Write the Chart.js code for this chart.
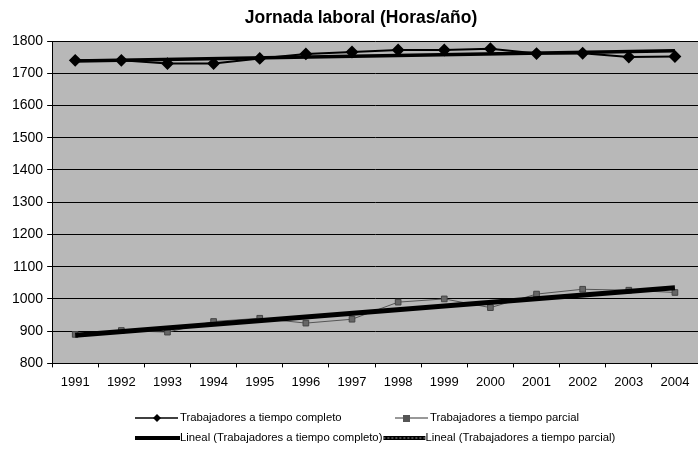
<!DOCTYPE html>
<html>
<head>
<meta charset="utf-8">
<script src="https://cdn.jsdelivr.net/npm/chart.js@4.4.0/dist/chart.umd.min.js"></script>
<style>
  html, body { margin: 0; padding: 0; background: #fff; overflow: hidden; }
  /* plot runs a bit past the right edge, like the scanned original */
  #wrap { width: 705px; height: 450px; position: relative; }
</style>
</head>
<body>
<div id="wrap"><canvas id="jornadaChart"></canvas></div>
<script>
// Data
const years = ['1991', '1992', '1993', '1994', '1995', '1996', '1997', '1998', '1999', '2000', '2001', '2002', '2003', '2004'];
const tiempoCompleto = [1740, 1740, 1730, 1730, 1746, 1760, 1766, 1772, 1772, 1776, 1761, 1762, 1750, 1752];
const tiempoParcial = [890, 902, 897, 930, 940, 925, 937, 990, 1000, 973, 1015, 1030, 1027, 1020];
// trend lines: only the two ends are read, the line is straight between them
const tendCompleto = [1738, null, null, null, null, null, null, null, null, null, null, null, null, 1770];
const tendParcial = [887, null, null, null, null, null, null, null, null, null, null, null, null, 1035];
const yTicks = [800, 900, 1000, 1100, 1200, 1300, 1400, 1500, 1600, 1700, 1800];

const labels = [
    'Trabajadores a tiempo completo',
    'Trabajadores a tiempo parcial',
    'Lineal (Trabajadores a tiempo completo)',
    'Lineal (Trabajadores a tiempo parcial)'
];

const FONT = '"Liberation Sans", Arial, sans-serif';

// grey plot area
const plotBackground = {
    id: 'plotBackground',
    beforeDraw(chart) {
        const { ctx, chartArea: a } = chart;
        ctx.save();
        ctx.fillStyle = '#b8b8b8';
        ctx.fillRect(a.left, a.top, a.right - a.left, a.bottom - a.top);
        ctx.restore();
    }
};

// title + two row legend like the excel one
const titleAndLegend = {
    id: 'titleAndLegend',
    afterDraw(chart) {
        const ctx = chart.ctx;
        ctx.save();
        ctx.fillStyle = '#000';
        ctx.font = 'bold 17.5px ' + FONT;
        ctx.textAlign = 'center';
        ctx.textBaseline = 'middle';
        ctx.fillText('Jornada laboral (Horas/año)', 361, 18);

        ctx.font = '11.3px ' + FONT;
        ctx.textAlign = 'left';

        // row 1
        let y = 418;
        ctx.strokeStyle = '#000';
        ctx.lineWidth = 1.5;
        ctx.beginPath(); ctx.moveTo(135, y); ctx.lineTo(178, y); ctx.stroke();
        ctx.beginPath();
        ctx.moveTo(157, y - 4); ctx.lineTo(161, y); ctx.lineTo(157, y + 4); ctx.lineTo(153, y);
        ctx.closePath(); ctx.fill();
        ctx.fillText(labels[0], 180, y);

        ctx.strokeStyle = '#333';
        ctx.lineWidth = 1;
        ctx.beginPath(); ctx.moveTo(395, y); ctx.lineTo(428, y); ctx.stroke();
        ctx.fillStyle = '#555';
        ctx.fillRect(403, y - 3, 7, 7);
        ctx.fillStyle = '#000';
        ctx.fillText(labels[1], 430, y);

        // row 2
        y = 438;
        ctx.strokeStyle = '#000';
        ctx.lineWidth = 4;
        ctx.beginPath(); ctx.moveTo(135, y); ctx.lineTo(180, y); ctx.stroke();
        ctx.fillText(labels[2], 180, y);
        const x0 = 180 + ctx.measureText(labels[2]).width + 1;
        ctx.beginPath(); ctx.moveTo(x0, y); ctx.lineTo(x0 + 42, y); ctx.stroke();
        ctx.strokeStyle = '#999';
        ctx.lineWidth = 1;
        ctx.setLineDash([2, 2]);
        ctx.beginPath(); ctx.moveTo(x0, y); ctx.lineTo(x0 + 42, y); ctx.stroke();
        ctx.setLineDash([]);
        ctx.fillText(labels[3], x0 + 42, y);
        ctx.restore();
    }
};

const ctx = document.getElementById('jornadaChart').getContext('2d');
new Chart(ctx, {
    type: 'line',
    data: {
        labels: years,
        datasets: [
            {
                label: labels[2],
                data: tendCompleto,
                borderColor: '#000',
                borderWidth: 3.5,
                pointRadius: 0,
                spanGaps: true,
                order: 0
            },
            {
                label: labels[3],
                data: tendParcial,
                borderColor: '#000',
                borderWidth: 5,
                pointRadius: 0,
                spanGaps: true,
                order: 0
            },
            {
                label: labels[0],
                data: tiempoCompleto,
                borderColor: '#000',
                borderWidth: 2,
                pointStyle: 'rectRot',
                pointRadius: 5,
                pointBackgroundColor: '#000',
                pointBorderColor: '#000',
                tension: 0,
                order: 1
            },
            {
                label: labels[1],
                data: tiempoParcial,
                borderColor: '#555',
                borderWidth: 1,
                pointStyle: 'rect',
                pointRadius: 4,
                pointBackgroundColor: '#666',
                pointBorderColor: '#444',
                tension: 0,
                order: 1
            }
        ]
    },
    options: {
        responsive: true,
        maintainAspectRatio: false,
        animation: false,
        layout: {
            padding: { left: 8, right: 0, top: 41, bottom: 53 }
        },
        scales: {
            x: {
                offset: true,
                grid: {
                    offset: true,
                    drawOnChartArea: false,
                    tickLength: 4,
                    color: '#000'
                },
                border: { color: '#000', width: 1 },
                ticks: {
                    color: '#000',
                    font: { family: FONT, size: 13 },
                    padding: 7,
                    maxRotation: 0,
                    autoSkip: false
                }
            },
            y: {
                min: 800,
                max: 1800,
                afterBuildTicks(scale) {
                    scale.ticks = yTicks.map(v => ({ value: v }));
                },
                grid: {
                    color: '#000',
                    lineWidth: 1,
                    tickLength: 5
                },
                border: { color: '#000', width: 1 },
                ticks: {
                    color: '#000',
                    font: { family: FONT, size: 14 },
                    padding: 4,
                    callback: v => String(v)
                }
            }
        },
        plugins: {
            legend: { display: false },
            title: { display: false },
            tooltip: { enabled: false }
        }
    },
    plugins: [plotBackground, titleAndLegend]
});
</script>
</body>
</html>
